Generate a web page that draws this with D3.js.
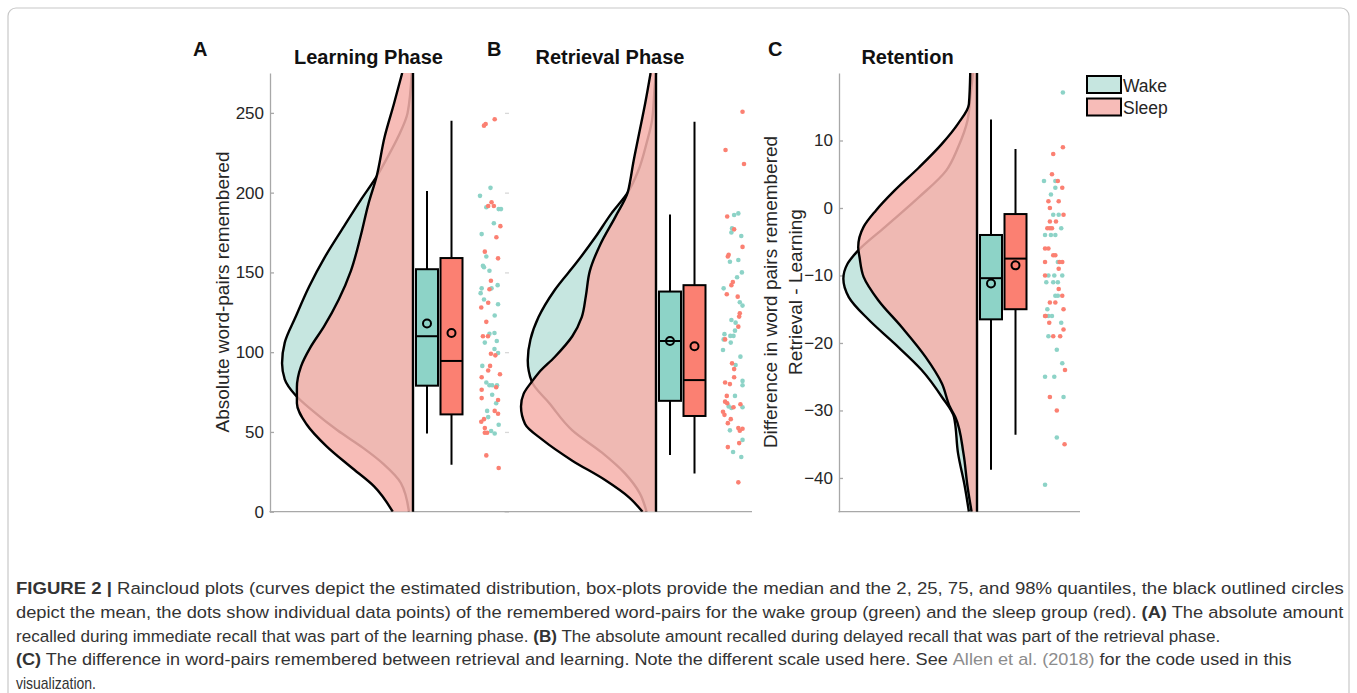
<!DOCTYPE html>
<html>
<head>
<meta charset="utf-8">
<script src="https://cdnjs.cloudflare.com/ajax/libs/d3/7.8.5/d3.min.js"></script>
<style>
  body { margin: 0; background: #fff; }
  svg { display: block; font-family: "Liberation Sans", Arial, sans-serif; }
</style>
</head>
<body>
<div id="chart"></div>
<script>
// values
var groups = ["Wake", "Sleep"]
var group_colors = ["#8DD3C7", "#FB8072"]
var cloud_colors = ["rgb(198,230,224)", "rgb(246,177,171)"]
var panel_letters = ["A", "B", "C"]
var panel_titles = ["Learning Phase", "Retrieval Phase", "Retention"]
var absolute_ticks = [0, 50, 100, 150, 200, 250]
var retention_ticks = [-40, -30, -20, -10, 0, 10]

// box-plots: 2%, 25%, median, 75%, 98% quantiles
var learning_wake_box = [49, 79, 110, 152, 201]
var learning_sleep_box = [29.5, 61, 94.5, 159, 245]
var retrieval_wake_box = [35.5, 69.5, 107, 138, 186.3]
var retrieval_sleep_box = [24, 60, 82.5, 142, 244.4]
var retention_wake_box = [-38.8, -16.5, -10.4, -4, 13.1]
var retention_sleep_box = [-33.6, -15, -7.5, -0.9, 8.75]
// means, [wake, sleep]
var learning_means = [118, 112]
var retrieval_means = [107, 103.7]
var retention_means = [-11.2, -8.5]

// estimated distributions, [value, relative density]
var learning_wake_density = [[275, .01], [250, .04], [235, .11], [222, .19], [210, .27], [195, .39], [179, .51],
  [160, .65], [141, .77], [122, .87], [106, .95], [93, .97], [83, .95], [73, .87], [63, .74], [51, .56],
  [40, .37], [30, .22], [18, .09], [0, .03]]
var learning_sleep_density = [[275, .08], [256, .14], [235, .21], [210, .27], [193, .33], [172, .39], [151, .46],
  [133, .55], [116, .66], [103, .76], [91, .83], [78, .86], [68, .86], [55, .79], [41, .64], [28, .46],
  [16, .29], [0, .15]]
var retrieval_wake_density = [[275, 0], [266, .01], [245, .03], [231, .07], [214, .13], [200, .21], [187, .33],
  [172, .45], [156, .59], [139, .75], [122, .87], [108, .93], [95, .95], [81.5, .92], [68, .79], [51, .62],
  [37, .4], [24, .23], [11.5, .12], [0, .07]]
var retrieval_sleep_density = [[275, .04], [256, .08], [235, .13], [218, .17], [208, .19], [200, .21], [185, .3],
  [168, .41], [151, .49], [135, .52], [122, .55], [110, .62], [97, .75], [87, .87], [81.5, .92], [74, .98],
  [66, 1], [55, .97], [45, .84], [32, .62], [20, .38], [9, .2], [0, .1]]
var retention_wake_density = [[20, .03], [16.4, .05], [13, .07], [9, .14], [5.5, .23], [1.6, .43], [-2.8, .68],
  [-6.5, .89], [-8.3, .96], [-10.5, .99], [-13.2, .95], [-16.6, .8], [-20.1, .61], [-24, .41], [-28, .26],
  [-31, .17], [-36.4, .14], [-41.3, .09], [-45, .06]]
var retention_sleep_density = [[20, .05], [15.4, .06], [12.5, .14], [9.5, .26], [6, .43], [2.6, .61], [-0.4, .75],
  [-2.8, .84], [-5.8, .88], [-7.3, .87], [-10.2, .84], [-13.7, .73], [-17.6, .56], [-22.1, .38], [-26, .26],
  [-29.5, .2], [-31, .16], [-36.4, .1], [-41.3, .07], [-45, .04]]

// individual data points, [value, jitter]
var learning_wake_points = [[203, .5], [198, 0], [190.8, .3], [189.7, .89], [189.7, 1], [180.8, .66], [174, .08],
  [160, .3], [154.2, .14], [153.2, .19], [151, .45], [142, .84], [140, .08], [140, .55], [137, .03], [133, .19],
  [130, .86], [123, .7], [111.5, .45], [112, .69], [106, .23], [107, .8], [102, .69], [99.5, .86], [91.4, .11],
  [81, .3], [79.3, .45], [79.3, .58], [79.3, .81], [73.3, .58], [68, .77], [63.2, .34], [59.3, .39], [54.5, .89],
  [50.6, .53], [49, .7]]
var learning_sleep_points = [[242, .19], [243, .27], [246, .7], [194, .55], [191.6, .39], [191.6, .66], [179, .97],
  [172, .78], [163, .23], [158.8, .86], [144.8, .52], [139.4, .45], [131, .39], [128, .06], [119, .3], [110, .14],
  [110, .38], [99, .52], [98, .73], [91.4, .48], [88.5, .39], [86.2, .95], [84.3, .08], [78, .77], [76.4, .08],
  [71.2, .08], [70, .86], [63.2, .7], [61.4, .86], [58, .19], [56.4, .06], [52.4, .23], [49.5, .23], [49.5, .34],
  [35.3, .3], [27.4, .89]]
var retrieval_wake_points = [[186, .53], [187, .73], [177.6, .43], [175, .4], [172.8, .87], [156.7, .33],
  [157.8, .73], [150, .9], [147, .67], [140, .03], [131.3, .8], [129.2, .93], [120.2, .4], [118.5, .6],
  [113.5, .57], [111.3, .07], [110.2, .35], [110.2, .5], [108, .03], [106, .37], [101.4, 0], [97.2, .83],
  [92, .6], [82, .93], [79.3, .93], [72.6, .57], [66, .27], [65, .4], [65.5, .93], [51, .33], [45, .93],
  [37.4, .48], [34.3, .87]]
var retrieval_sleep_points = [[250.7, .93], [226.7, .12], [218, 1], [185, .2], [177, .53], [166, .93], [161, .27],
  [160, .23], [144, .47], [142, .4], [136.3, .18], [134.8, .7], [124.4, .8], [122.3, .77], [116, .73], [108, .1],
  [93, .43], [89.4, .53], [84.3, .53], [81, .1], [80, .33], [72.6, .18], [69, .1], [68, .2], [65.5, .5],
  [67.4, .83], [62.7, 0], [60.7, .07], [58, .37], [55.5, .23], [52.4, .73], [50.7, .8], [52, .93], [43, .77],
  [40.5, .23], [18.4, .73]]
var retention_wake_points = [[17.1, .9], [4, 0], [4, .54], [3, .54], [2, .33], [-1, .44], [-1, .7], [-3, .82],
  [-4, .05], [-4, .33], [-4, .54], [-8, .66], [-10, .21], [-10, .49], [-10, .87], [-11, .11], [-11, .44],
  [-11, .66], [-13, .54], [-13, .66], [-15, .16], [-16, .21], [-16, .38], [-17, .82], [-19, .21], [-21, .61],
  [-23, .87], [-25, .05], [-25, .49], [-28, .93], [-34, .61], [-41, .05]]
var retention_sleep_points = [[9, .9], [8, .44], [5, .38], [4, .66], [3, .87], [1, .21], [1, .7], [0, .28],
  [-1, .93], [-2, .28], [-2, .57], [-3, .16], [-3, .28], [-3, .38], [-6, .05], [-6, .21], [-7, .44], [-7, .54],
  [-8, .05], [-8, .74], [-8, .87], [-9, .7], [-10, .05], [-12, .7], [-13, .87], [-14, .28], [-14, .54],
  [-15, .93], [-16, .05], [-16, .08], [-17, .25], [-18, .93], [-19, .44], [-19, .77], [-24, 1], [-28, .28],
  [-30, .61], [-35, .98]]

var width = 1357,
    height = 693,
    plot_top = 73,
    plot_bottom = 511.7,
    density_width = 135,
    box_width = 22

var panels = [
  { left: 270, right: 505, base: 413, domain: [0, 275], ticks: absolute_ticks, labels: true,
    box: [learning_wake_box, learning_sleep_box], means: learning_means,
    density: [learning_wake_density, learning_sleep_density],
    points: [learning_wake_points, learning_sleep_points] },
  { left: 505, right: 752, base: 656, domain: [0, 275], ticks: absolute_ticks, labels: false,
    box: [retrieval_wake_box, retrieval_sleep_box], means: retrieval_means,
    density: [retrieval_wake_density, retrieval_sleep_density],
    points: [retrieval_wake_points, retrieval_sleep_points] },
  { left: 839, right: 1080, base: 977, domain: [-45, 20], ticks: retention_ticks, labels: true,
    box: [retention_wake_box, retention_sleep_box], means: retention_means,
    density: [retention_wake_density, retention_sleep_density],
    points: [retention_wake_points, retention_sleep_points] }
]
var title_x = [[193, 368.5], [487, 610], [768, 907.5]]

var svg = d3.select("#chart").append("svg")
    .attr("width", width)
    .attr("height", height)

// figure frame
svg.append("rect")
    .attr("x", 8).attr("y", 8)
    .attr("width", 1341).attr("height", 700)
    .attr("rx", 8)
    .style("fill", "none")
    .style("stroke", "#c8c8c8")
    .style("stroke-width", 1.2)

panels.forEach(function(p, pi) {
  var y = d3.scaleLinear().domain(p.domain).range([plot_bottom, plot_top])
  var dens = d3.scaleLinear().domain([0, 1]).range([p.base, p.base - density_width])
  var g = svg.append("g")

  g.append("clipPath")
      .attr("id", "clip" + pi)
    .append("rect")
      .attr("x", p.left).attr("y", plot_top)
      .attr("width", p.right - p.left).attr("height", plot_bottom - plot_top)

  // axes
  var axis = d3.axisLeft(y)
      .tickValues(p.ticks)
      .tickSizeInner(-4)
      .tickSizeOuter(0)
      .tickPadding(6)
  if (!p.labels) axis.tickFormat("")
  var ax = g.append("g")
      .attr("transform", "translate(" + p.left + ",0)")
      .call(axis)
  ax.select(".domain")
      .style("stroke", p.labels ? "#a8a8a8" : "none")
      .style("stroke-width", 1.3)
  ax.selectAll(".tick line")
      .style("stroke", p.labels ? "#a8a8a8" : "#d8d8d8")
      .style("stroke-width", 1.3)
  ax.selectAll(".tick text")
      .style("font-size", "17px")
      .style("fill", "#262626")
      .style("font-family", "'Liberation Sans', Arial, sans-serif")
  g.append("line")
      .attr("x1", p.left - 0.6).attr("x2", p.right)
      .attr("y1", plot_bottom).attr("y2", plot_bottom)
      .style("stroke", "#a8a8a8")
      .style("stroke-width", 1.3)

  // clouds: wake first, sleep laid over it
  var area = d3.area()
      .curve(d3.curveMonotoneY)
      .y(function(d) { return y(d[0]) })
      .x0(p.base)
      .x1(function(d) { return dens(d[1]) })
  var outline = d3.line()
      .curve(d3.curveMonotoneY)
      .y(function(d) { return y(d[0]) })
      .x(function(d) { return dens(d[1]) })
  var clouds = g.append("g").attr("clip-path", "url(#clip" + pi + ")")
  p.density.forEach(function(curve, gi) {
    clouds.append("path")
        .attr("d", area(curve))
        .style("fill", cloud_colors[gi])
        .style("fill-opacity", gi == 0 ? 1 : 0.86)
    clouds.append("path")
        .attr("d", outline(curve))
        .style("fill", "none")
        .style("stroke", "#000")
        .style("stroke-width", 2.4)
  })
  g.append("line")
      .attr("x1", p.base).attr("x2", p.base)
      .attr("y1", plot_top).attr("y2", plot_bottom)
      .style("stroke", "#000")
      .style("stroke-width", 2.4)

  // box-plots
  var box_x = [p.base + 14, p.base + 38.5]
  p.box.forEach(function(q, gi) {
    var cx = box_x[gi]
    g.append("line")
        .attr("x1", cx).attr("x2", cx)
        .attr("y1", y(q[0])).attr("y2", y(q[4]))
        .style("stroke", "#000")
        .style("stroke-width", 2)
    g.append("rect")
        .attr("x", cx - box_width / 2).attr("width", box_width)
        .attr("y", y(q[3])).attr("height", y(q[1]) - y(q[3]))
        .style("fill", group_colors[gi])
        .style("stroke", "#000")
        .style("stroke-width", 2)
    g.append("line")
        .attr("x1", cx - box_width / 2).attr("x2", cx + box_width / 2)
        .attr("y1", y(q[2])).attr("y2", y(q[2]))
        .style("stroke", "#000")
        .style("stroke-width", 2)
    g.append("circle")
        .attr("cx", cx).attr("cy", y(p.means[gi]))
        .attr("r", 4)
        .style("fill", "none")
        .style("stroke", "#000")
        .style("stroke-width", 2)
  })

  // rain
  var jitter = d3.scaleLinear().domain([0, 1]).range([p.base + 67, p.base + 88])
  p.points.forEach(function(pts, gi) {
    g.selectAll(null)
        .data(pts).enter()
      .append("circle")
        .attr("cx", function(d) { return jitter(d[1]) })
        .attr("cy", function(d) { return y(d[0]) })
        .attr("r", 2.3)
        .style("fill", group_colors[gi])
  })

  // titles
  svg.append("text")
      .attr("x", title_x[pi][0]).attr("y", 56)
      .style("font-size", "20px")
      .style("font-weight", "bold")
      .style("fill", "#111")
      .text(panel_letters[pi])
  svg.append("text")
      .attr("x", title_x[pi][1]).attr("y", 64)
      .attr("text-anchor", "middle")
      .style("font-size", "20px")
      .style("font-weight", "bold")
      .style("fill", "#111")
      .text(panel_titles[pi])
})

// y labels
function y_label(x, text) {
  svg.append("text")
      .attr("transform", "translate(" + x + ",292) rotate(-90)")
      .attr("text-anchor", "middle")
      .attr("dominant-baseline", "central")
      .style("font-size", "19px")
      .style("fill", "#262626")
      .text(text)
}
y_label(222, "Absolute word-pairs remembered")
y_label(770, "Difference in word pairs remembered")
y_label(795, "Retrieval - Learning")

// legend
groups.forEach(function(name, gi) {
  svg.append("rect")
      .attr("x", 1087).attr("y", 76 + gi * 22.5)
      .attr("width", 34).attr("height", 17)
      .style("fill", gi == 0 ? cloud_colors[0] : "rgb(247,188,184)")
      .style("stroke", "#000")
      .style("stroke-width", 2)
  svg.append("text")
      .attr("x", 1123).attr("y", 91.5 + gi * 22)
      .style("font-size", "17.5px")
      .style("fill", "#262626")
      .text(name)
})

// caption
var caption_lines = [
  [["FIGURE 2 | ", "b"], ["Raincloud plots (curves depict the estimated distribution, box-plots provide the median and the 2, 25, 75, and 98% quantiles, the black outlined circles", ""]],
  [["depict the mean, the dots show individual data points) of the remembered word-pairs for the wake group (green) and the sleep group (red). ", ""], ["(A)", "b"], [" The absolute amount", ""]],
  [["recalled during immediate recall that was part of the learning phase. ", ""], ["(B)", "b"], [" The absolute amount recalled during delayed recall that was part of the retrieval phase.", ""]],
  [["(C)", "b"], [" The difference in word-pairs remembered between retrieval and learning. Note the different scale used here. See ", ""], ["Allen et al. (2018)", "l"], [" for the code used in this", ""]],
  [["visualization.", ""]]
]
var caption_right = [1345, 1345, 1221, 1291, 96]
caption_lines.forEach(function(line, i) {
  var t = svg.append("text")
      .style("font-family", "'Liberation Sans', Arial, sans-serif")
      .style("font-size", "17px")
      .style("white-space", "pre")
      .style("fill", "#333")
  line.forEach(function(seg) {
    t.append("tspan")
        .style("font-weight", seg[1] == "b" ? "bold" : "normal")
        .style("fill", seg[1] == "l" ? "#8c8c8c" : "#333")
        .text(seg[0])
  })
  var s = (caption_right[i] - 16) / t.node().getBBox().width
  t.attr("transform", "translate(16," + (594 + i * 23.8) + ") scale(" + s + ",1)")
})
</script>
</body>
</html>
